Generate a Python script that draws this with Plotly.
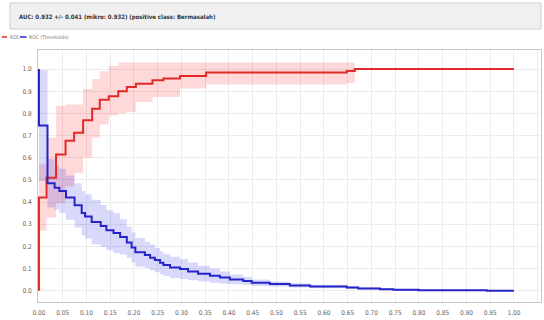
import plotly.graph_objects as go

# ---- data ----
title_text = "AUC: 0.932 +/- 0.041 (mikro: 0.932) (positive class: Bermasalah)"
series_names = ["ROC", "ROC (Thresholds)"]

roc_fpr = [0.0, 0.016, 0.036, 0.056, 0.074, 0.093, 0.112, 0.128, 0.147, 0.167,
           0.185, 0.204, 0.239, 0.262, 0.297, 0.352, 0.648, 0.665, 1.0]
roc_tpr = [0.42, 0.51, 0.615, 0.676, 0.713, 0.769, 0.821, 0.862, 0.877, 0.90,
           0.919, 0.934, 0.949, 0.957, 0.969, 0.984, 0.991, 1.0, 1.0]
roc_upper = [0.57, 0.69, 0.835, 0.84, 0.84, 0.91, 0.955, 0.99, 1.015, 1.03,
             1.03, 1.03, 1.03, 1.03, 1.03, 1.03, 1.03, 1.0, 1.0]
roc_lower = [0.27, 0.33, 0.395, 0.47, 0.53, 0.60, 0.69, 0.75, 0.79, 0.80,
             0.806, 0.851, 0.874, 0.874, 0.912, 0.93, 0.937, 1.0, 1.0]

thr_fpr = [0.0, 0.018, 0.033, 0.043, 0.057, 0.075, 0.09, 0.097, 0.111, 0.13,
           0.142, 0.157, 0.171, 0.185, 0.195, 0.203, 0.223, 0.234, 0.244, 0.255,
           0.262, 0.276, 0.297, 0.314, 0.335, 0.36, 0.381, 0.402, 0.43, 0.448,
           0.486, 0.528, 0.571, 0.648, 0.672, 0.718, 0.746, 0.799, 0.943, 1.0]
thr_val = [0.745, 0.485, 0.465, 0.45, 0.42, 0.385, 0.35, 0.335, 0.31, 0.292,
           0.273, 0.26, 0.242, 0.218, 0.195, 0.173, 0.161, 0.149, 0.138, 0.126,
           0.116, 0.105, 0.098, 0.087, 0.077, 0.068, 0.059, 0.051, 0.044, 0.036,
           0.03, 0.024, 0.019, 0.014, 0.01, 0.007, 0.004, 0.002, 0.0, 0.0]
thr_std = [0.25, 0.11, 0.10, 0.10, 0.10, 0.10, 0.10, 0.10, 0.10, 0.095,
           0.09, 0.09, 0.08, 0.07, 0.068, 0.065, 0.06, 0.058, 0.055, 0.052,
           0.05, 0.048, 0.045, 0.04, 0.036, 0.032, 0.028, 0.022, 0.018, 0.015,
           0.012, 0.01, 0.008, 0.006, 0.005, 0.004, 0.003, 0.002, 0.0, 0.0]

x_ticks = [i * 0.05 for i in range(22)]
y_ticks = [i * 0.1 for i in range(11)]

RED = "rgb(226,40,40)"
BLUE = "rgb(36,36,200)"
RED_FILL = "rgba(255,0,0,0.15)"
BLUE_FILL = "rgba(0,0,230,0.15)"

thr_up = [v + s for v, s in zip(thr_val, thr_std)]
thr_lo = [v - s for v, s in zip(thr_val, thr_std)]

fig = go.Figure()
# bands
fig.add_trace(go.Scatter(x=roc_fpr, y=roc_upper, mode="lines", line=dict(width=0, shape="hv"),
                         hoverinfo="skip", showlegend=False))
fig.add_trace(go.Scatter(x=roc_fpr, y=roc_lower, mode="lines", line=dict(width=0, shape="hv"),
                         fill="tonexty", fillcolor=RED_FILL, hoverinfo="skip", showlegend=False))
fig.add_trace(go.Scatter(x=thr_fpr, y=thr_up, mode="lines", line=dict(width=0, shape="hv"),
                         hoverinfo="skip", showlegend=False))
fig.add_trace(go.Scatter(x=thr_fpr, y=thr_lo, mode="lines", line=dict(width=0, shape="hv"),
                         fill="tonexty", fillcolor=BLUE_FILL, hoverinfo="skip", showlegend=False))
# lines
fig.add_trace(go.Scatter(x=[0.0] + roc_fpr, y=[0.0] + roc_tpr, mode="lines", name=series_names[0],
                         line=dict(color=RED, width=2, shape="hv"), showlegend=False))
fig.add_trace(go.Scatter(x=[0.0] + thr_fpr, y=[1.0] + thr_val, mode="lines", name=series_names[1],
                         line=dict(color=BLUE, width=2, shape="hv"), showlegend=False))

L, R, T, B = 38, 3, 50, 18
W, H = 544, 320
pw, ph = W - L - R, H - T - B

def px(x):
    return (x - L) / pw

def py(y):
    return (H - B - y) / ph

FONT = "Liberation Sans Narrow, DejaVu Sans Condensed, Arial"
tick_font = dict(family=FONT, size=6.5, color="#666")

shapes = [
    dict(type="rect", xref="paper", yref="paper", x0=px(10), x1=px(541), y0=py(29), y1=py(3),
         fillcolor="#f0f0f0", line=dict(color="#cfcfcf", width=1), layer="below"),
    dict(type="line", xref="paper", yref="paper", x0=px(2), x1=px(7), y0=py(37), y1=py(37),
         line=dict(color=RED, width=1.5)),
    dict(type="line", xref="paper", yref="paper", x0=px(20), x1=px(26.5), y0=py(37), y1=py(37),
         line=dict(color=BLUE, width=1.5)),
]
annotations = [
    dict(text="<b>" + title_text + "</b>", xref="paper", yref="paper", x=px(17), y=py(17),
         xanchor="left", yanchor="middle", showarrow=False,
         font=dict(family=FONT, size=6, color="#333")),
    dict(text=series_names[0], xref="paper", yref="paper", x=px(7.5), y=py(37),
         xanchor="left", yanchor="middle", showarrow=False,
         font=dict(family=FONT, size=5, color="#777")),
    dict(text=series_names[1], xref="paper", yref="paper", x=px(27), y=py(37),
         xanchor="left", yanchor="middle", showarrow=False,
         font=dict(family=FONT, size=5, color="#777")),
]

fig.update_layout(
    width=W, height=H,
    margin=dict(l=L, r=R, t=T, b=B, pad=0),
    paper_bgcolor="white", plot_bgcolor="white",
    shapes=shapes, annotations=annotations,
    showlegend=False,
)
fig.update_xaxes(range=[-0.002, 1.057], tickvals=x_ticks, ticktext=[f"{v:.2f}" for v in x_ticks],
                 showgrid=True, gridcolor="#ececec", gridwidth=1, zeroline=False,
                 showline=True, linecolor="#c8c8c8", linewidth=1, mirror=True,
                 ticks="", tickfont=tick_font, ticklabelstandoff=4)
fig.update_yaxes(range=[-0.051, 1.086], tickvals=y_ticks, ticktext=[f"{v:.1f}" for v in y_ticks],
                 showgrid=True, gridcolor="#ececec", gridwidth=1, zeroline=False,
                 showline=True, linecolor="#c8c8c8", linewidth=1, mirror=True,
                 ticks="", tickfont=tick_font, ticklabelstandoff=4)

fig.write_html("out.html", config={"displayModeBar": False},
               post_script="document.body.style.margin='0';document.body.style.overflow='hidden';")
